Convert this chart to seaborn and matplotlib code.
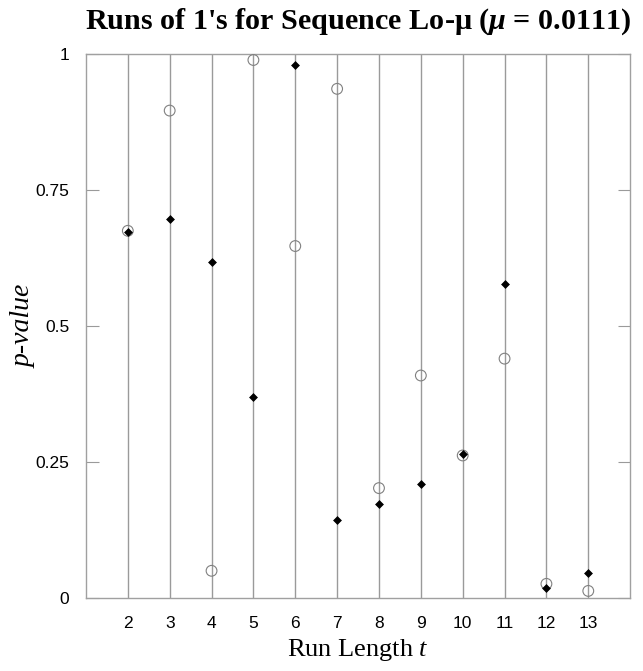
import matplotlib
matplotlib.use('Agg')
import matplotlib.pyplot as plt
import pandas as pd
import seaborn as sns

run_length = [2, 3, 4, 5, 6, 7, 8, 9, 10, 11, 12, 13]
pval_diamond = [0.672, 0.696, 0.618, 0.369, 0.980, 0.143, 0.173, 0.210, 0.264, 0.578, 0.019, 0.046]
pval_circle = [0.675, 0.896, 0.050, 0.989, 0.647, 0.936, 0.202, 0.409, 0.262, 0.440, 0.026, 0.013]
ytick_vals = [0, 0.25, 0.5, 0.75, 1]
ytick_labels = ['0', '0.25', '0.5', '0.75', '1']

df = pd.DataFrame({'t': run_length, 'diamond': pval_diamond, 'circle': pval_circle})

sns.set_style('white')
plt.rcParams['font.family'] = ['Liberation Sans', 'DejaVu Sans']
plt.rcParams['text.color'] = 'black'
plt.rcParams['axes.labelcolor'] = 'black'
plt.rcParams['xtick.color'] = 'black'
plt.rcParams['ytick.color'] = 'black'
plt.rcParams['mathtext.fontset'] = 'custom'
plt.rcParams['mathtext.it'] = 'Liberation Serif:italic'
plt.rcParams['mathtext.bfit'] = 'Liberation Serif:italic:bold'
plt.rcParams['mathtext.rm'] = 'Liberation Serif'

fig = plt.figure(figsize=(6.43, 6.71), dpi=100)
ax = fig.add_axes([0.1337, 0.1088, 0.8463, 0.8107])

for t in run_length:
    ax.axvline(t, color='#9a9a9a', lw=1.0, zorder=0)

sns.scatterplot(data=df, x='t', y='circle', ax=ax, marker='o', s=60,
                facecolor='none', edgecolor='#808080', linewidth=0.8, zorder=3)
sns.scatterplot(data=df, x='t', y='diamond', ax=ax, marker='D', s=16,
                color='black', edgecolor='black', linewidth=0.5, zorder=4)

ax.set_xlim(1, 14)
ax.set_ylim(0, 1)
ax.set_xticks(run_length)
ax.set_xticklabels([str(t) for t in run_length], fontsize=12.5)
ax.set_yticks(ytick_vals)
ax.set_yticklabels(ytick_labels, fontsize=12.5)
ax.tick_params(axis='x', length=0, pad=13)
ax.tick_params(axis='y', direction='in', length=9, color='#9a9a9a', labelcolor='black',
               pad=12, right=True, left=True)
for sp in ax.spines.values():
    sp.set_color('#a0a0a0')
    sp.set_linewidth(1.0)

ax.set_xlabel('Run Length $t$', family='Liberation Serif', fontsize=19, labelpad=4)
ax.set_ylabel('p-value', family='Liberation Serif', style='italic', fontsize=20, labelpad=-1)
ax.set_title("Runs of 1's for Sequence Lo-μ ($\\mathbfit{\\mu}$ = 0.0111)", family='Liberation Serif',
             fontweight='bold', fontsize=21.7, pad=18, x=0.5)

plt.savefig('out.png', dpi=100)
plt.close()
